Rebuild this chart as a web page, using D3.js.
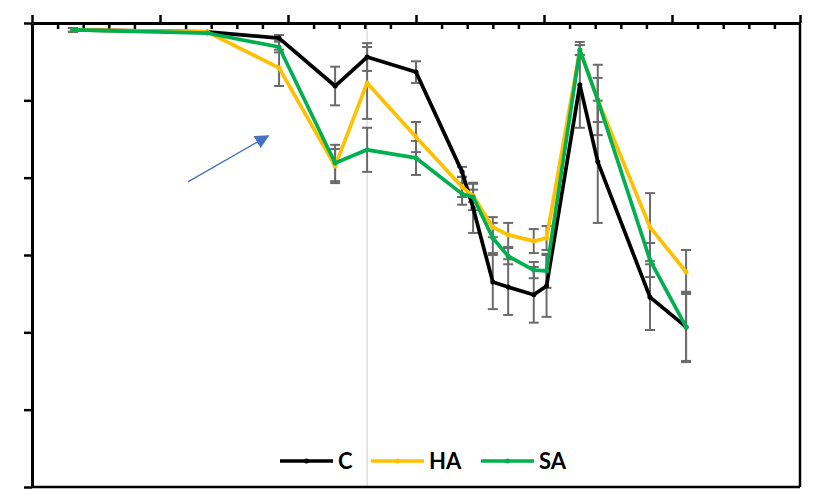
<!DOCTYPE html>
<html>
<head>
<meta charset="utf-8">
<script src="https://cdn.jsdelivr.net/npm/d3@7"></script>
<style>
  html, body { margin: 0; padding: 0; background: #fff; }
  svg { display: block; }
</style>
</head>
<body>
<svg id="chart" width="820" height="498"></svg>
<script>
// Sampling positions (shared by all three series)
const xValues = [1.6, 6.84, 9.65, 11.84, 13.09, 15.0, 16.8, 17.23, 18.0, 18.6, 19.6, 20.1, 21.4, 22.1, 24.14, 25.55];

// Series means
const seriesC  = [118.2, 117.7, 116.1, 103.7, 111.2, 107.3, 81.5, 72.2, 53.0, 51.7, 49.7, 52.0, 104.0, 84.1, 49.1, 41.4];
const seriesHA = [118.2, 117.7, 108.4, 83.0, 104.5, 90.5, 77.6, 75.3, 67.2, 65.2, 63.6, 64.4, 113.0, 100.1, 67.2, 55.6];
const seriesSA = [118.2, 117.4, 113.8, 83.8, 87.2, 85.1, 75.8, 75.0, 64.4, 59.7, 56.1, 55.9, 113.0, 100.1, 58.7, 41.4];

// Error-bar half widths
const errC  = [0.5, 0, 0.8, 5.0, 3.6, 2.8, 1.3, 6.5, 7.0, 7.2, 7.2, 8.0, 11.1, 15.8, 8.5, 9.1];
const errHA = [0.5, 0, 4.7, 4.4, 9.3, 3.9, 2.6, 1.6, 2.6, 3.1, 3.1, 3.1, 1.3, 5.7, 8.8, 5.7];
const errSA = [0.5, 0, 1.4, 4.7, 5.7, 4.4, 2.8, 3.4, 3.9, 2.1, 2.1, 4.4, 1.3, 9.1, 4.4, 8.8];

const seriesNames = ["C", "HA", "SA"];
const seriesColors = ["#000000", "#FFC000", "#00B050"];

// Axis tick values
const xMajorTicks = [0, 5, 10, 15, 20, 25, 30];
const xMinorTicks = d3.range(0, 31, 1);
const yTicks = [0, 20, 40, 60, 80, 100, 120];

// Reference line and arrow annotation (data units)
const refLineX = 13.09;
const arrowFrom = [6.09, 78.9];
const arrowTo = [9.22, 90.8];

const svg = d3.select("#chart");
const margin = { left: 32, right: 20, top: 23, bottom: 11 };
const W = 820, H = 498;

const x = d3.scaleLinear().domain([0, 30]).range([margin.left, W - margin.right]);
const y = d3.scaleLinear().domain([0, 120]).range([H - margin.bottom, margin.top]);

const data = [
  { name: seriesNames[0], color: seriesColors[0], vals: seriesC, err: errC },
  { name: seriesNames[1], color: seriesColors[1], vals: seriesHA, err: errHA },
  { name: seriesNames[2], color: seriesColors[2], vals: seriesSA, err: errSA }
];

// Faint vertical reference line
svg.append("line")
  .attr("x1", x(refLineX)).attr("x2", x(refLineX))
  .attr("y1", y(120)).attr("y2", y(0))
  .attr("stroke", "#cfcfcf").attr("stroke-width", 1);

// Frame: bottom and right edges
svg.append("line")
  .attr("x1", x(0)).attr("x2", x(30)).attr("y1", y(0)).attr("y2", y(0))
  .attr("stroke", "#000").attr("stroke-width", 2.5);
svg.append("line")
  .attr("x1", x(30)).attr("x2", x(30)).attr("y1", y(120)).attr("y2", y(0))
  .attr("stroke", "#000").attr("stroke-width", 2.5);

// Top axis: major ticks outward, minor ticks inward
const topMinor = svg.append("g").attr("transform", `translate(0,${y(120)})`)
  .call(d3.axisTop(x).tickValues(xMinorTicks.filter(v => v % 5 !== 0)).tickSize(-6).tickFormat(""));
const topMajor = svg.append("g").attr("transform", `translate(0,${y(120)})`)
  .call(d3.axisTop(x).tickValues(xMajorTicks).tickSize(8).tickSizeOuter(0).tickFormat(""));
[topMinor, topMajor].forEach(g => {
  g.selectAll("line").attr("stroke", "#000").attr("stroke-width", 2.5);
  g.select(".domain").attr("stroke", "#000").attr("stroke-width", 3);
});
topMinor.select(".domain").remove();

// Left axis
const left = svg.append("g").attr("transform", `translate(${x(0)},0)`)
  .call(d3.axisLeft(y).tickValues(yTicks).tickSize(8).tickSizeOuter(0).tickFormat(""));
left.selectAll("line").attr("stroke", "#000").attr("stroke-width", 2.5);
left.select(".domain").attr("stroke", "#000").attr("stroke-width", 3);

// Error bars
const capHalf = 5;
const errG = svg.append("g").attr("stroke", "#6b6b6b").attr("stroke-width", 2).attr("fill", "none");
data.forEach(s => {
  s.vals.forEach((v, i) => {
    const e = s.err[i];
    if (!e) return;
    const cx = x(xValues[i]);
    const y1 = y(v + e), y2 = y(v - e);
    errG.append("line").attr("x1", cx).attr("x2", cx).attr("y1", y1).attr("y2", y2);
    errG.append("line").attr("x1", cx - capHalf).attr("x2", cx + capHalf).attr("y1", y1).attr("y2", y1);
    errG.append("line").attr("x1", cx - capHalf).attr("x2", cx + capHalf).attr("y1", y2).attr("y2", y2);
  });
});

// Series lines with small markers
const line = d3.line().x((d, i) => x(xValues[i])).y(d => y(d));
data.forEach(s => {
  svg.append("path").datum(s.vals)
    .attr("d", line)
    .attr("fill", "none")
    .attr("stroke", s.color)
    .attr("stroke-width", 3.7)
    .attr("stroke-linejoin", "round");
  svg.append("g").selectAll("circle").data(s.vals).join("circle")
    .attr("cx", (d, i) => x(xValues[i]))
    .attr("cy", d => y(d))
    .attr("r", 2.5)
    .attr("fill", s.color);
});

// Arrow annotation
const defs = svg.append("defs");
defs.append("marker")
  .attr("id", "arrowHead")
  .attr("viewBox", "0 0 10 10")
  .attr("refX", 9).attr("refY", 5)
  .attr("markerWidth", 14).attr("markerHeight", 14)
  .attr("markerUnits", "userSpaceOnUse")
  .attr("orient", "auto")
  .append("path").attr("d", "M0,0 L10,5 L0,10 Z").attr("fill", "#4472C4");
svg.append("line")
  .attr("x1", x(arrowFrom[0])).attr("y1", y(arrowFrom[1]))
  .attr("x2", x(arrowTo[0])).attr("y2", y(arrowTo[1]))
  .attr("stroke", "#4472C4").attr("stroke-width", 1.3)
  .attr("marker-end", "url(#arrowHead)");

// Legend
const legendItems = [
  { name: seriesNames[0], color: seriesColors[0], x0: 280 },
  { name: seriesNames[1], color: seriesColors[1], x0: 371 },
  { name: seriesNames[2], color: seriesColors[2], x0: 481 }
];
const legendY = 461;
const lg = svg.append("g");
legendItems.forEach(it => {
  lg.append("line")
    .attr("x1", it.x0).attr("x2", it.x0 + 53)
    .attr("y1", legendY).attr("y2", legendY)
    .attr("stroke", it.color).attr("stroke-width", 3.5);
  lg.append("circle").attr("cx", it.x0 + 26.5).attr("cy", legendY).attr("r", 2.5).attr("fill", it.color);
  lg.append("text")
    .attr("x", it.x0 + 58).attr("y", legendY)
    .attr("dy", "0.36em")
    .attr("font-family", "Lato, 'Open Sans', sans-serif")
    .attr("font-weight", "bold")
    .attr("font-size", 22)
    .attr("fill", "#000")
    .text(it.name);
});
</script>
</body>
</html>
